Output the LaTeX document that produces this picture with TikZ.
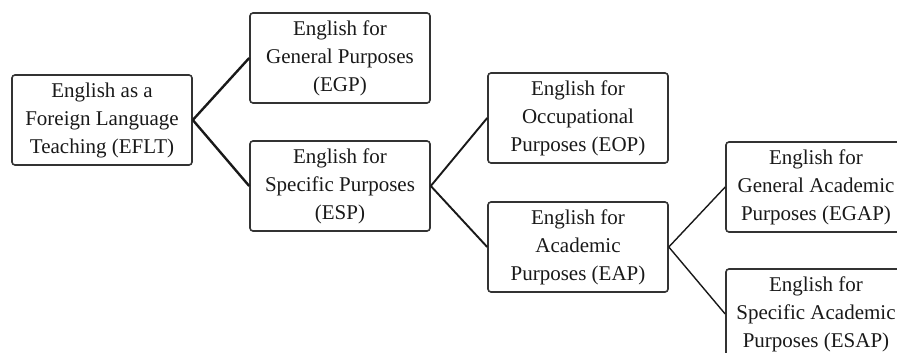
\documentclass[tikz,border=0pt]{standalone}
\usepackage{fontspec}
\setmainfont{Liberation Serif}
\usetikzlibrary{arrows}

\begin{document}
\begin{tikzpicture}[x=1pt,y=-1pt,semithick]

  \tikzstyle{every node}=[font=\rmfamily\fontsize{21}{28}\selectfont,text=black!90]
  \tikzstyle{box}=[draw=black!80,line width=1.6pt,rounded corners=3pt,
                   align=center,minimum width=180pt,minimum height=90pt,
                   inner sep=0pt]

  \clip (0,0) rectangle (897,353);

  \node[box]  (A) at (102,120) {English as a\\Foreign Language\\Teaching (EFLT)};
  \node[box]  (B) at (340,58)  {English for\\General Purposes\\(EGP)};
  \node[box]  (C) at (340,186) {English for\\Specific Purposes\\(ESP)};
  \node[box]  (D) at (578,118) {English for\\Occupational\\Purposes (EOP)};
  \node[box]  (E) at (578,247) {English for\\Academic\\Purposes (EAP)};
  \node[box]  (F) at (816,187) {English for\\General Academic\\Purposes (EGAP)};
  \node[box]  (G) at (816,314) {English for\\Specific Academic\\Purposes (ESAP)};

  \path[draw=black!90]
        (A.east) edge[line width=2.4pt] (B.west)
        (A.east) edge[line width=2.4pt] (C.west)
        (C.east) edge[line width=1.9pt] (D.west)
        (C.east) edge[line width=1.9pt] (E.west)
        (E.east) edge[line width=1.4pt] (F.west)
        (E.east) edge[line width=1.4pt] (G.west);
\end{tikzpicture}
\end{document}
